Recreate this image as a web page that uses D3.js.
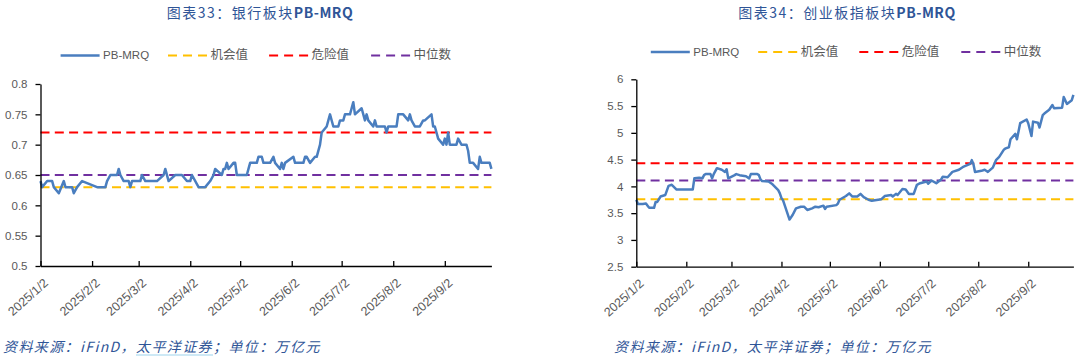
<!DOCTYPE html>
<html><head><meta charset="utf-8">
<script src="https://cdn.jsdelivr.net/npm/d3@7"></script>
<style>body{margin:0;background:#fff;} svg{display:block;}</style>
</head><body>
<svg id="c" width="1080" height="357"></svg>
<script>
// ---------------- DATA ----------------
const titles = ["图表33：银行板块", "图表34：创业板指板块"];
const titleSuffix = "PB-MRQ";
const legendLabels = ["PB-MRQ", "机会值", "危险值", "中位数"];
const sourceText = "资料来源：iFinD，太平洋证券；单位：万亿元";
const xTickDates = ["01-02","02-02","03-02","04-02","05-02","06-02","07-02","08-02","09-02"];
const xDomain = ["01-02", "09-30"];

const bankYTicks = [0.5, 0.55, 0.6, 0.65, 0.7, 0.75, 0.8];
const bankThresholds = [0.63, 0.72, 0.65]; // 机会值, 危险值, 中位数
const bankDates = ["01-02","01-03","01-06","01-09","01-10","01-13","01-16","01-17","01-21","01-22","01-24","01-27",
"02-05","02-10","02-11","02-13","02-17","02-18","02-19","02-21","02-24","02-25","02-26",
"03-03","03-04","03-06","03-13","03-17","03-18","03-20","03-24","03-28","03-31",
"04-02","04-03","04-07","04-11","04-14","04-16","04-17","04-21","04-22","04-23","04-24","04-25","04-28","04-29","04-30",
"05-06","05-07","05-08","05-12","05-13","05-15","05-16","05-20","05-22","05-23","05-26","05-27","05-28","05-29",
"06-03","06-04","06-09","06-10","06-11","06-13","06-16","06-17","06-19","06-20","06-23","06-24","06-25","06-27","06-30",
"07-01","07-03","07-04","07-07","07-08","07-09","07-10","07-14","07-15","07-16","07-17","07-18","07-21","07-22","07-23","07-28","07-29","07-30",
"08-04","08-05","08-08","08-11","08-12","08-13","08-15","08-18","08-20","08-21","08-25","08-26","08-27","08-28","08-29",
"09-01","09-02","09-03","09-04","09-05","09-09","09-10","09-12","09-15","09-16","09-17","09-19","09-22","09-23","09-24","09-29","09-30"];
const bankValues = [0.64,0.63,0.64,0.64,0.63,0.62,0.64,0.63,0.63,0.62,0.63,0.64,
0.63,0.63,0.64,0.65,0.65,0.66,0.65,0.64,0.64,0.63,0.64,
0.64,0.65,0.64,0.64,0.65,0.66,0.64,0.65,0.65,0.64,
0.64,0.65,0.63,0.63,0.64,0.65,0.66,0.65,0.66,0.66,0.67,0.66,0.67,0.67,0.65,
0.65,0.66,0.67,0.67,0.68,0.68,0.67,0.67,0.68,0.67,0.66,0.67,0.66,0.67,
0.68,0.67,0.67,0.68,0.68,0.67,0.68,0.68,0.70,0.72,0.73,0.74,0.75,0.73,0.73,
0.74,0.74,0.75,0.75,0.76,0.77,0.75,0.76,0.75,0.74,0.75,0.74,0.73,0.74,0.73,0.73,0.72,0.73,
0.73,0.75,0.75,0.74,0.75,0.74,0.73,0.73,0.74,0.74,0.75,0.73,0.73,0.72,0.71,
0.70,0.71,0.70,0.72,0.70,0.70,0.71,0.70,0.70,0.69,0.67,0.67,0.66,0.68,0.67,0.67,0.66];

const cybYTicks = [2.5, 3, 3.5, 4, 4.5, 5, 5.5, 6];
const cybThresholds = [3.76, 4.43, 4.11];
const cybDates = ["01-02","01-03","01-06","01-08","01-09","01-10","01-13","01-14","01-15","01-16","01-17","01-20","01-22","01-24","01-27",
"02-06","02-07","02-10","02-12","02-13","02-14","02-17","02-18","02-19","02-21","02-24","02-26","02-27","02-28",
"03-04","03-05","03-07","03-11","03-13","03-14","03-18","03-19","03-20","03-21","03-25","03-27","03-31",
"04-01","04-02","04-03","04-07","04-09","04-11","04-14","04-16","04-18","04-21","04-23","04-25","04-28","04-29","04-30",
"05-06","05-07","05-08","05-12","05-14","05-16","05-19","05-21","05-23","05-26","05-28",
"06-03","06-05","06-09","06-10","06-12","06-13","06-16","06-18","06-20","06-23","06-25","06-27",
"07-01","07-02","07-04","07-07","07-10","07-11","07-14","07-17","07-21","07-24","07-28","07-29","07-30","07-31",
"08-04","08-06","08-08","08-11","08-13","08-15","08-18","08-19","08-21","08-22","08-25","08-26","08-28",
"09-01","09-02","09-04","09-05","09-08","09-09","09-11","09-12","09-15","09-17","09-18","09-23","09-24","09-26","09-29","09-30"];
const cybValues = [3.75,3.67,3.67,3.68,3.64,3.60,3.60,3.71,3.71,3.76,3.81,3.84,4.01,4.03,3.94,
3.94,4.15,4.16,4.15,4.21,4.23,4.23,4.15,4.23,4.34,4.31,4.27,4.32,4.15,
4.21,4.23,4.21,4.19,4.15,4.23,4.23,4.21,4.13,4.10,4.09,4.05,3.93,
3.87,3.78,3.74,3.38,3.47,3.59,3.62,3.62,3.56,3.59,3.62,3.61,3.64,3.58,3.62,
3.65,3.68,3.75,3.82,3.87,3.81,3.81,3.86,3.80,3.75,3.73,
3.76,3.82,3.84,3.81,3.86,3.84,3.95,3.94,3.86,3.86,4.03,4.06,
4.09,4.05,4.11,4.06,4.13,4.18,4.17,4.27,4.31,4.37,4.42,4.49,4.42,4.27,
4.29,4.31,4.27,4.35,4.49,4.55,4.69,4.71,4.73,4.88,4.98,4.88,5.18,
5.25,5.18,4.94,5.21,5.19,5.10,5.33,5.36,5.43,5.52,5.46,5.47,5.67,5.54,5.61,5.71];

// ---------------- STYLE / LAYOUT ----------------
const colors = { line: "#4A7EBF", opp: "#FFC000", danger: "#FF0000", median: "#7030A0" };
const thresholdColors = [colors.opp, colors.danger, colors.median];
const parse = s => d3.timeParse("%Y-%m-%d")("2025-" + s);
const fmtTick = d => (d.getFullYear()) + "/" + (d.getMonth() + 1) + "/" + d.getDate();

const charts = [
  { title: titles[0], dates: bankDates, values: bankValues, th: bankThresholds, yTicks: bankYTicks,
    x0: 40.5, x1: 491.4, yTop: 84, yBot: 266, titleX: 260, legendX: 60.6, legendY: 55.4, srcX: 3, underline: true },
  { title: titles[1], dates: cybDates, values: cybValues, th: cybThresholds, yTicks: cybYTicks,
    x0: 636.3, x1: 1073.4, yTop: 79.3, yBot: 266.7, titleX: 847, legendX: 650.8, legendY: 52, srcX: 614, underline: false }
];
const legendOffsets = [0, 107.4, 208.5, 310.5];

const svg = d3.select("#c");
const tickFont = "'Liberation Sans', Arial, sans-serif";

charts.forEach(c => {
  const x = d3.scaleTime().domain(xDomain.map(parse)).range([c.x0, c.x1]);
  const y = d3.scaleLinear().domain(d3.extent(c.yTicks)).range([c.yBot, c.yTop]);
  const g = svg.append("g");

  // title
  const t = g.append("text").attr("x", c.titleX).attr("y", 18).attr("text-anchor", "middle")
    .attr("fill", "#2F5597").style("font-family", "'Noto Sans CJK SC', sans-serif")
    .style("font-size", "14px").style("letter-spacing", "1.5px");
  t.append("tspan").text(c.title);
  t.append("tspan").style("font-weight", "bold").style("letter-spacing", "0.5px").text(titleSuffix);

  // legend
  const lg = g.append("g");
  legendLabels.forEach((lab, i) => {
    const lx = c.legendX + legendOffsets[i];
    lg.append("line").attr("x1", lx).attr("x2", lx + 39).attr("y1", c.legendY).attr("y2", c.legendY)
      .attr("stroke", i === 0 ? colors.line : thresholdColors[i - 1])
      .attr("stroke-width", i === 0 ? 2.5 : 2)
      .attr("stroke-dasharray", i === 0 ? null : "9,6");
    lg.append("text").attr("x", lx + 42.5).attr("y", c.legendY + 4).attr("fill", "#595959")
      .style("font-family", i === 0 ? tickFont : "'Noto Sans CJK SC', sans-serif")
      .style("font-size", i === 0 ? "11.5px" : "12.5px").text(lab);
  });

  // threshold lines
  c.th.forEach((v, i) => {
    g.append("line").attr("x1", c.x0).attr("x2", c.x1).attr("y1", y(v)).attr("y2", y(v))
      .attr("stroke", thresholdColors[i]).attr("stroke-width", 2).attr("stroke-dasharray", "9,5.3");
  });

  // series
  const data = c.dates.map((d, i) => ({ d: parse(d), v: c.values[i] }));
  g.append("path").datum(data).attr("fill", "none").attr("stroke", colors.line)
    .attr("stroke-width", 2.5).attr("stroke-linejoin", "round")
    .attr("d", d3.line().x(p => x(p.d)).y(p => y(p.v)));

  // y axis
  const ya = g.append("g").attr("transform", `translate(${c.x0},0)`)
    .call(d3.axisLeft(y).tickValues(c.yTicks).tickSize(5).tickSizeOuter(0).tickPadding(8).tickFormat(d => String(+d.toFixed(2))));
  ya.select(".domain").attr("stroke", "#000").attr("stroke-width", 1.3);
  ya.selectAll(".tick line").attr("stroke", "#000").attr("stroke-width", 1.3);
  ya.selectAll("text").attr("fill", "#595959").style("font-family", tickFont).style("font-size", "11.5px");

  // x axis
  const xa = g.append("g").attr("transform", `translate(0,${c.yBot})`)
    .call(d3.axisBottom(x).tickValues(xTickDates.map(parse)).tickSize(-5).tickSizeOuter(0).tickFormat(fmtTick));
  xa.select(".domain").attr("stroke", "#000").attr("stroke-width", 1.3);
  xa.selectAll(".tick line").attr("stroke", "#000").attr("stroke-width", 1.3);
  xa.selectAll("text").attr("fill", "#595959").style("font-family", tickFont).style("font-size", "12.5px")
    .attr("text-anchor", "end").attr("dy", null).attr("y", null)
    .attr("transform", "translate(8,18) rotate(-42)");

  // source
  const s = g.append("text").attr("x", c.srcX).attr("y", 352).attr("fill", "#2F5597")
    .style("font-family", "'Noto Sans CJK SC', sans-serif").style("font-size", "14px")
    .style("font-style", "italic").style("letter-spacing", "1.4px").text(sourceText);
  if (c.underline) {
    const i0 = sourceText.indexOf("太平洋证券");
    const n = s.node();
    const xa0 = n.getStartPositionOfChar(i0).x;
    const xa1 = n.getEndPositionOfChar(i0 + 4).x;
    g.append("line").attr("x1", xa0).attr("x2", xa1).attr("y1", 355).attr("y2", 355)
      .attr("stroke", "#9DD3EC").attr("stroke-width", 1);
  }
});
</script>
</body></html>
